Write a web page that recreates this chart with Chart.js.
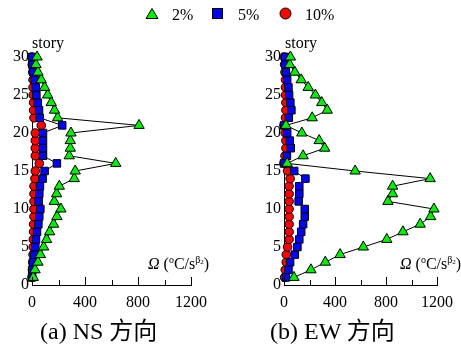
<!DOCTYPE html>
<html>
<head>
<meta charset="utf-8">
<script src="https://cdn.jsdelivr.net/npm/chart.js@4.4.0/dist/chart.umd.min.js"></script>
<style>
  body { margin: 0; width: 461px; height: 347px; background: #fff; position: relative; overflow: hidden;
         font-family: "Liberation Serif", "Noto Sans CJK SC", serif; color: #000; }
  canvas { position: absolute; top: 0; }
  #c1 { left: 0; }
  #c2 { left: 231px; }
  .txt { position: absolute; white-space: nowrap; line-height: 1; }
  .lab { font-size: 16px; }
  .cap { font-size: 24px; }
  sup { font-size: 10px; vertical-align: 6px; line-height: 0; }
  sub { font-size: 7px; vertical-align: -1px; line-height: 0; }
</style>
</head>
<body>
<canvas id="c1" width="230" height="347"></canvas>
<canvas id="c2" width="230" height="347"></canvas>

<!-- legend -->
<svg class="txt" style="left:145px; top:7px" width="14" height="13"><polygon points="7,1.5 13,11.5 1,11.5" fill="#00ee00" stroke="#000" stroke-width="1"/></svg>
<div class="txt lab" style="left:172px; top:7px">2%</div>
<svg class="txt" style="left:211px; top:7px" width="13" height="13"><rect x="1.5" y="1.5" width="10" height="10" fill="#0000ff" stroke="#000" stroke-width="1"/></svg>
<div class="txt lab" style="left:238px; top:7px">5%</div>
<svg class="txt" style="left:279px; top:7px" width="13" height="13"><circle cx="6.5" cy="6.5" r="5.5" fill="#ff0000" stroke="#000" stroke-width="1"/></svg>
<div class="txt lab" style="left:305px; top:7px">10%</div>

<div class="txt lab" style="left:32px; top:35px">story</div>
<div class="txt lab" style="left:285px; top:35px">story</div>

<div class="txt lab" style="left:148px; top:256px"><i>Ω</i> (<sup>o</sup>C/s<sup>β<sub>2</sub></sup>)</div>
<div class="txt lab" style="left:400px; top:256px"><i>Ω</i> (<sup>o</sup>C/s<sup>β<sub>2</sub></sup>)</div>

<div class="txt cap" style="left:40px; top:319px">(a) NS 方向</div>
<div class="txt cap" style="left:270px; top:319px">(b) EW 方向</div>

<script>
// stories 1..30
const STORIES = Array.from({ length: 30 }, (_, i) => i + 1);
const X_TICKS = [0, 200, 400, 600, 800, 1000, 1200];

// NS direction
const NS_2 = [10, 23, 45, 63, 88, 110, 133, 163, 188, 218, 168, 186, 206, 319, 326,
              632, 281, 289, 289, 294, 808, 193, 170, 145, 118, 95, 70, 45, 30, 38];
const NS_5 = [0, 3, 8, 15, 25, 30, 38, 48, 55, 63, 50, 55, 60, 80, 95,
              188, 83, 83, 83, 83, 228, 58, 53, 43, 33, 28, 20, 10, 3, 0];
const NS_10 = [0, 3, 5, 8, 10, 10, 12, 12, 15, 15, 15, 15, 15, 22, 25,
               55, 25, 25, 25, 25, 70, 15, 12, 12, 10, 8, 8, 5, 2, 0];

// EW direction
const EW_2 = [78, 211, 324, 440, 622, 806, 933, 1068, 1150, 1176, 815, 852, 852, 1146, 558,
              25, 150, 319, 276, 140, 15, 221, 339, 296, 246, 190, 135, 85, 45, 50];
const EW_5 = [15, 35, 48, 85, 105, 120, 135, 150, 163, 163, 115, 120, 120, 168, 80,
              0, 23, 53, 45, 25, 0, 38, 58, 50, 40, 35, 25, 15, 10, 8];
const EW_10 = [5, 10, 18, 18, 28, 40, 40, 40, 40, 40, 40, 40, 40, 48, 28,
               0, 8, 15, 15, 10, 0, 12, 15, 15, 12, 12, 12, 8, 5, 3];

const font = { family: 'Liberation Serif', size: 16 };

// inward x-axis tick marks
const innerTicks = {
    id: 'innerTicks',
    afterDraw(chart) {
        const ctx = chart.ctx;
        const xs = chart.scales.x;
        const y0 = chart.chartArea.bottom;
        ctx.save();
        ctx.strokeStyle = '#000';
        ctx.lineWidth = 1;
        X_TICKS.forEach(v => {
            const px = Math.round(xs.getPixelForValue(v)) + 0.5;
            const len = v % 400 === 0 ? 8 : 5;
            ctx.beginPath();
            ctx.moveTo(px, y0);
            ctx.lineTo(px, y0 - len);
            ctx.stroke();
        });
        ctx.restore();
    }
};

function series(vals, style, color, radius) {
    return {
        data: vals.map((v, i) => ({ x: v, y: STORIES[i] })),
        showLine: true,
        borderColor: '#000',
        borderWidth: 1,
        pointStyle: style,
        pointRadius: radius,
        pointBackgroundColor: color,
        pointBorderColor: '#000',
        pointBorderWidth: 1,
        clip: false
    };
}

function makeChart(id, s2, s5, s10, padLeft, padRight) {
    new Chart(document.getElementById(id), {
        type: 'scatter',
        data: {
            datasets: [
                series(s2, 'triangle', '#00ee00', 6),
                series(s5, 'rect', '#0000ff', 5.3),
                series(s10, 'circle', '#ff0000', 4.3)
            ]
        },
        options: {
            responsive: false,
            animation: false,
            layout: { padding: { left: padLeft, right: padRight, top: 57, bottom: 32 } },
            plugins: { legend: { display: false }, tooltip: { enabled: false } },
            scales: {
                x: {
                    type: 'linear', min: 0, max: 1200,
                    afterFit: s => { s.height = 30; },
                    grid: { display: false, drawTicks: false },
                    border: { color: '#000', width: 1 },
                    ticks: { stepSize: 400, padding: 8, color: '#000', font: font, maxRotation: 0,
                             callback: v => String(v) }
                },
                y: {
                    type: 'linear', min: 0, max: 30,
                    afterFit: s => { s.width = 32; },
                    grid: { display: false, drawTicks: false },
                    border: { color: '#000', width: 1 },
                    ticks: { stepSize: 5, padding: 3, color: '#000', font: font }
                }
            }
        },
        plugins: [innerTicks]
    });
}

makeChart('c1', NS_2, NS_5, NS_10, 0, 39);
makeChart('c2', EW_2, EW_5, EW_10, 21, 18);
</script>
</body>
</html>
